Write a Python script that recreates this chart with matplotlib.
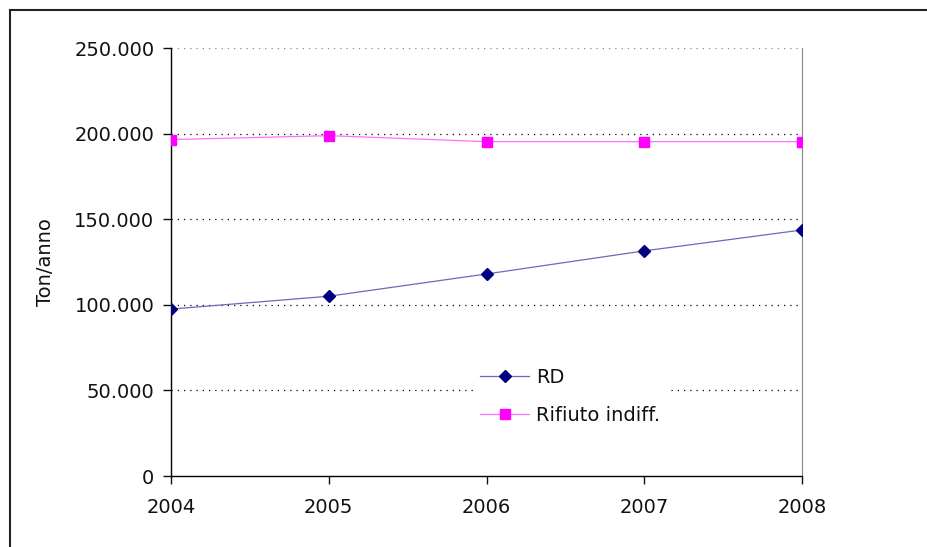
import matplotlib.pyplot as plt
from matplotlib.lines import Line2D
from matplotlib.ticker import FuncFormatter

years = ["2004", "2005", "2006", "2007", "2008"]
rd = [97500, 105000, 118000, 131500, 143700]
rifiuto = [196500, 198800, 195300, 195300, 195300]

plt.rcParams['font.family'] = ['DejaVu Sans']

fig = plt.figure(figsize=(9.27, 5.47), dpi=100)
ax = fig.add_axes([171 / 927, 1 - 476 / 547, 631 / 927, 428 / 547])

x = list(range(len(years)))
ax.plot(x, rd, color="#6a6ab8", lw=0.9, marker="D", markersize=6.5,
        markerfacecolor="#000080", markeredgecolor="#000080", label="RD", zorder=3)
ax.plot(x, rifiuto, color="#ff70ff", lw=0.9, marker="s", markersize=6.5,
        markerfacecolor="#ff00ff", markeredgecolor="#ff00ff", label="Rifiuto indiff.", zorder=3)

ax.set_xlim(0, len(years) - 1)
ax.set_ylim(0, 250000)
ax.set_xticks(x)
ax.set_xticklabels(years)
ax.set_yticks(range(0, 250001, 50000))
ax.yaxis.set_major_formatter(FuncFormatter(lambda v, p: "0" if v == 0 else "{:,.0f}".format(v).replace(",", ".")))

for v in range(50000, 250001, 50000):
    c = "#888888" if v == 250000 else "black"
    ax.axhline(v, color=c, lw=0.9, ls=(0, (1, 4)), zorder=1)

ax.spines['right'].set_color("#888888")
ax.spines['top'].set_visible(False)
ax.spines['left'].set_linewidth(1.0)
ax.spines['bottom'].set_linewidth(1.0)
ax.tick_params(axis='both', direction='out', length=6, width=1, labelsize=14, pad=6, colors='#111111')
ax.tick_params(axis='x', pad=10)
ax.set_ylabel("Ton/anno", fontsize=14, labelpad=14, color='#111111')

leg = ax.legend(loc="upper left", bbox_to_anchor=(0.478, 0.27), frameon=True,
                fontsize=14, handlelength=2.5, handletextpad=0.35, labelspacing=0.95,
                borderpad=0.4, borderaxespad=0, fancybox=False)
leg.get_frame().set_edgecolor("none")
leg.get_frame().set_facecolor("white")
leg.get_frame().set_alpha(1)
for t in leg.get_texts():
    t.set_color('#111111')

# outer frame (only left and top inside the picture)
fig.add_artist(Line2D([10 / 927, 10 / 927], [0, 1 - 10 / 547], color="#222222", lw=1.5))
fig.add_artist(Line2D([10 / 927, 1], [1 - 10 / 547, 1 - 10 / 547], color="#222222", lw=1.5))

fig.savefig("out.png", dpi=100)
